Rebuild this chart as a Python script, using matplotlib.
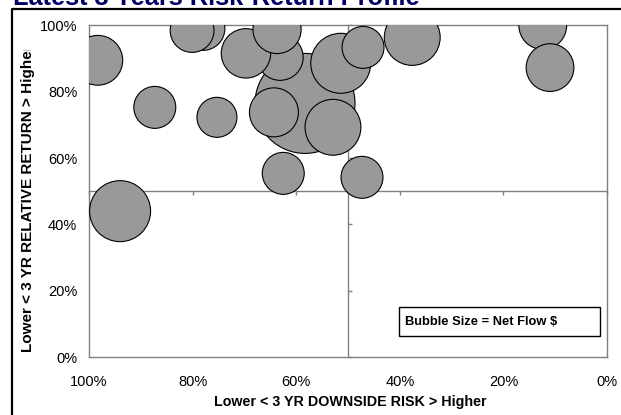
import matplotlib
matplotlib.use("Agg")
import matplotlib.pyplot as plt
from matplotlib.lines import Line2D
from matplotlib.patches import Rectangle
from matplotlib.transforms import Bbox
import numpy as np

plt.rcParams['font.family'] = ['Liberation Sans', 'DejaVu Sans']

# ---- data (drawing order: later bubbles on top) ----
downside_risk   = [98.3, 87.3, 75.3, 78.0, 80.1, 58.3, 63.1, 69.7, 63.7, 64.3, 52.9,
                   51.4, 47.1, 62.5, 47.3, 37.6, 12.4, 11.0, 94.0]
relative_return = [89.5, 75.3, 72.3, 99.1, 98.5, 76.5, 90.4, 91.6, 98.8, 73.8, 69.3,
                   88.6, 93.4, 55.4, 54.2, 96.4, 100.0, 87.3, 44.0]
net_flow        = [62, 44, 40, 48, 48, 250, 53, 61, 58, 60, 78,
                   90, 44, 44, 44, 78, 57, 57, 93]

x_ticks = [100, 80, 60, 40, 20, 0]
y_ticks = [0, 20, 40, 60, 80, 100]
x_tick_labels = ["100%", "80%", "60%", "40%", "20%", "0%"]
y_tick_labels = ["0%", "20%", "40%", "60%", "80%", "100%"]

title = "Latest 3 Years Risk-Return Profile"
x_label = "Lower < 3 YR DOWNSIDE RISK > Higher"
y_label = "Lower < 3 YR RELATIVE RETURN > Higher"
note = "Bubble Size = Net Flow $"

W, H = 621, 415
fig = plt.figure(figsize=(W / 100, H / 100), dpi=100)
fig.patch.set_facecolor("white")

L, R, T, B = 89, 607, 25.5, 357
pos = [L / W, 1 - B / H, (R - L) / W, (B - T) / H]

# background axes: crossing mid axes at 50% / 50%
ax_bg = fig.add_axes(pos, zorder=0)
ax_bg.set_xlim(100, 0)
ax_bg.set_ylim(0, 100)
ax_bg.set_facecolor("white")
for s in ("top", "right"):
    ax_bg.spines[s].set_visible(False)
ax_bg.spines["left"].set_position(("data", 50))
ax_bg.spines["bottom"].set_position(("data", 50))
for s in ("left", "bottom"):
    ax_bg.spines[s].set_color("#808080")
    ax_bg.spines[s].set_linewidth(1.0)
ax_bg.set_xticks(x_ticks)
ax_bg.set_yticks(y_ticks)
ax_bg.tick_params(axis="x", direction="out", length=3, width=1, color="#808080", labelbottom=False)
ax_bg.tick_params(axis="y", direction="in", length=3, width=1, color="#808080", labelleft=False)

# main axes
ax = fig.add_axes(pos, zorder=1)
ax.patch.set_alpha(0)
ax.set_xlim(100, 0)
ax.set_ylim(0, 100)
for s in ax.spines.values():
    s.set_color("#808080")
    s.set_linewidth(1.0)

r_max_px = 50.0
flow_max = max(net_flow)
sizes = [(2 * r_max_px * np.sqrt(f / flow_max) * 72 / 100) ** 2 for f in net_flow]
ax.scatter(downside_risk, relative_return, s=sizes, c="#999999",
           edgecolors="black", linewidths=0.8, zorder=3)

ax.set_xticks(x_ticks)
ax.set_xticklabels(x_tick_labels)
ax.set_yticks(y_ticks)
ax.set_yticklabels(y_tick_labels)
ax.tick_params(axis="both", length=0, labelsize=10.5)
ax.tick_params(axis="x", pad=13)
ax.tick_params(axis="y", pad=8.5)

# note box
bx0, bx1 = (399 - L) / (R - L), (600 - L) / (R - L)
by0, by1 = (B - 336) / (B - T), (B - 307) / (B - T)
ax.add_patch(Rectangle((bx0, by0), bx1 - bx0, by1 - by0, transform=ax.transAxes,
                       facecolor="white", edgecolor="black", linewidth=1.0, zorder=5))
ax.text((405 - L) / (R - L), (by0 + by1) / 2, note, transform=ax.transAxes,
        ha="left", va="center", fontsize=9.3, fontweight="bold", zorder=6)

# axis labels
fig.text(350 / W, 1 - 402 / H, x_label, ha="center", va="center",
         fontsize=10.3, fontweight="bold")
yl = fig.text(28 / W, 1 - 352 / H, y_label, ha="left", va="center", rotation=90,
              rotation_mode="anchor", fontsize=11, fontweight="bold")
yl.set_clip_box(Bbox([[0, 0], [W, H - 49.5]]))
yl.set_clip_on(True)

# title (cut off at the top)
fig.text(13 / W, 1 - 5 / H, title, ha="left", va="baseline", fontsize=18.3,
         fontweight="bold", color="#000066")

# outer frame
fig.add_artist(Line2D([11.5 / W, 11.5 / W, 1.0], [0, 1 - 9.5 / H, 1 - 9.5 / H],
                      transform=fig.transFigure, color="black", linewidth=1.6))

fig.savefig("out.png", dpi=100)
